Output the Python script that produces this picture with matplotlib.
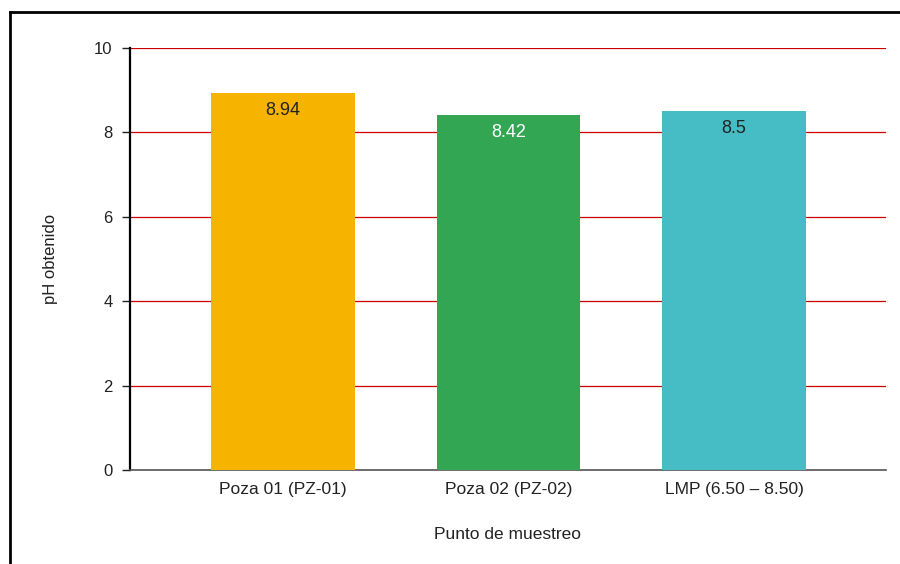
import matplotlib
matplotlib.use("Agg")
import matplotlib.pyplot as plt
from matplotlib.lines import Line2D

# Data
categories = ["Poza 01 (PZ-01)", "Poza 02 (PZ-02)", "LMP (6.50 – 8.50)"]
ph_values = [8.94, 8.42, 8.5]
value_labels = ["8.94", "8.42", "8.5"]
bar_colors = ["#F6B400", "#33A654", "#46BDC5"]
label_colors = ["#222222", "#FFFFFF", "#222222"]
y_ticks = [0, 2, 4, 6, 8, 10]

plt.rcParams['font.family'] = ['Liberation Sans', 'DejaVu Sans']

fig = plt.figure(figsize=(9, 5.64), dpi=100)
ax = fig.add_axes([0.1444, 0.1667, 0.84, 0.7482])

x = range(len(categories))
bars = ax.bar(x, ph_values, width=0.637, color=bar_colors, zorder=3)

# value labels inside the top of each bar
for xi, v, lab, c in zip(x, ph_values, value_labels, label_colors):
    ax.annotate(lab, (xi, v), xytext=(0, -6.5), textcoords="offset points",
                ha="center", va="top", fontsize=13, color=c, zorder=4)

ax.set_xlim(-0.677, 2.673)
ax.set_ylim(0, 10)
ax.set_yticks(y_ticks)
ax.set_xticks(list(x))
ax.set_xticklabels(categories, fontsize=12.5, color="#222222")
ax.tick_params(axis="y", labelsize=12, colors="#222222", length=6, width=1, pad=6.5)
ax.tick_params(axis="x", length=0, pad=9)

ax.yaxis.grid(True, color="#CC0000", linewidth=0.9, zorder=0)
ax.set_axisbelow(True)

for s in ["top", "right"]:
    ax.spines[s].set_visible(False)
ax.spines["left"].set_color("black")
ax.spines["left"].set_linewidth(1.6)
ax.spines["bottom"].set_color("#555555")
ax.spines["bottom"].set_linewidth(1.2)

ax.set_ylabel("pH obtenido", fontsize=12, color="#222222", labelpad=26)
ax.set_xlabel("Punto de muestreo", fontsize=12.5, color="#222222", labelpad=21)

# outer frame (top and left edges visible)
fig.add_artist(Line2D([9.5 / 900, 9.5 / 900], [0, 1 - 12 / 564], color="black", linewidth=2))
fig.add_artist(Line2D([9.5 / 900, 1], [1 - 12 / 564, 1 - 12 / 564], color="black", linewidth=2))

fig.savefig("out.png", dpi=100)
